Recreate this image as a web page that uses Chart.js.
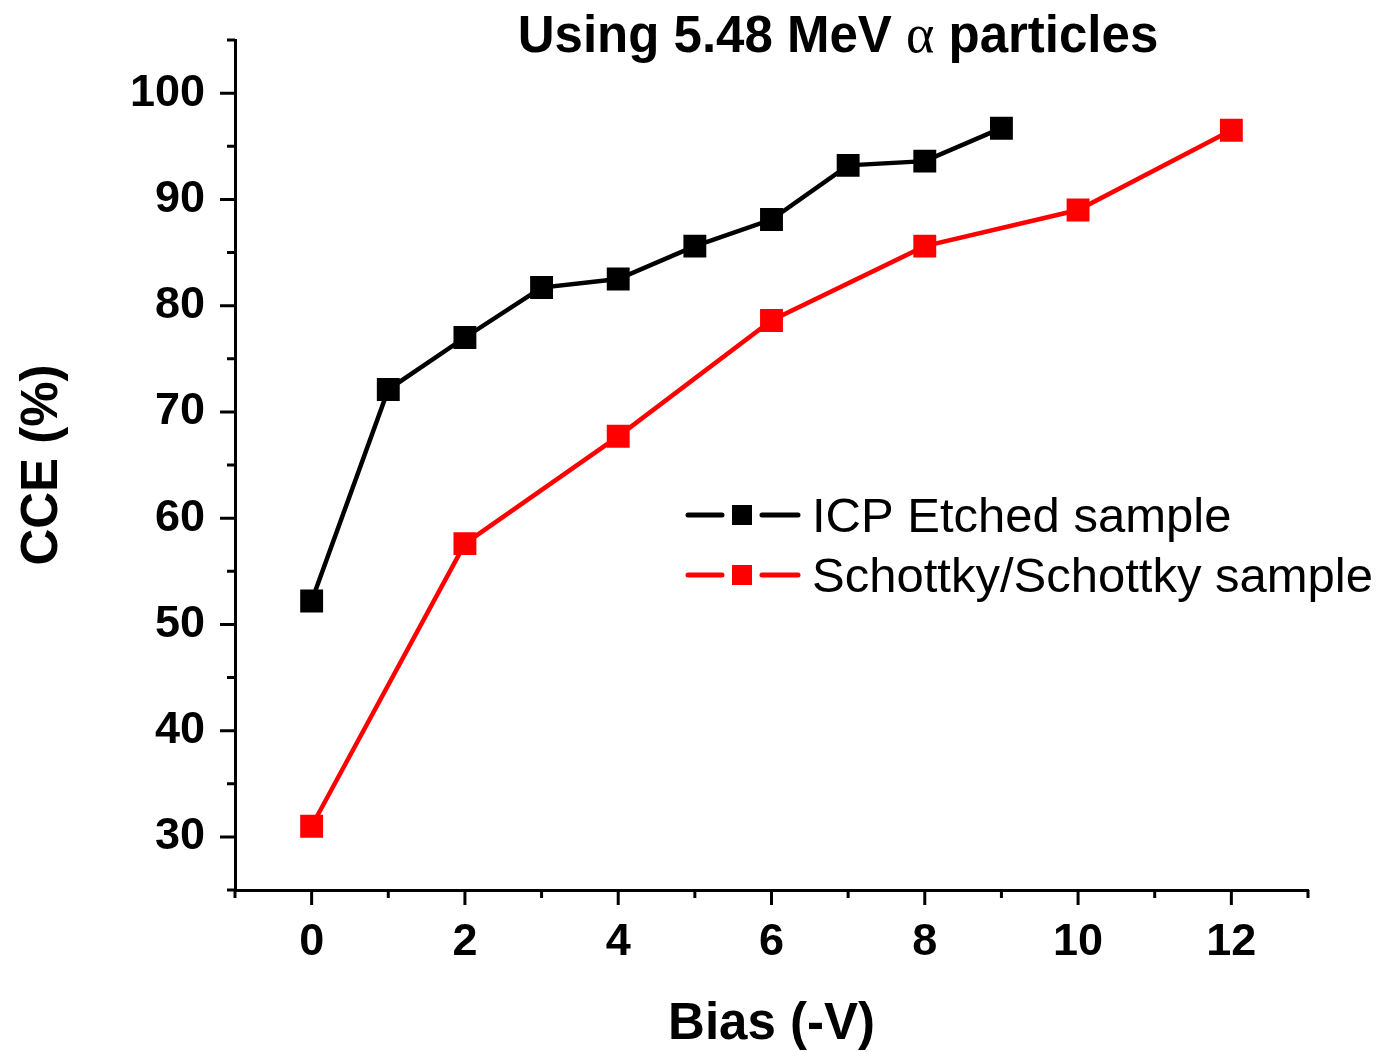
<!DOCTYPE html>
<html>
<head>
<meta charset="utf-8">
<script src="https://cdn.jsdelivr.net/npm/chart.js@4.4.1/dist/chart.umd.min.js"></script>
<style>
  body { margin: 0; background: #fff; }
  #wrap { width: 1381px; height: 1052px; }
</style>
</head>
<body>
<div id="wrap"><canvas id="cceChart" width="1381" height="1052"></canvas></div>
<script>
// data
const biasIcp = [0, 1, 2, 3, 4, 5, 6, 7, 8, 9];
const cceIcp = [52.2, 72.1, 77.0, 81.7, 82.5, 85.6, 88.1, 93.2, 93.6, 96.7];
const biasSchottky = [0, 2, 4, 6, 8, 10, 12];
const cceSchottky = [31.0, 57.6, 67.7, 78.6, 85.6, 89.0, 96.5];
const seriesNames = ["ICP Etched sample", "Schottky/Schottky sample"];
const seriesColors = ["#000000", "#ff0000"];
const chartTitle = ["Using 5.48 MeV ", "\u03b1", " particles"];

const toPoints = (xs, ys) => xs.map((x, i) => ({ x: x, y: ys[i] }));

// tick marks drawn outward, long ones for labelled values
const tickMarks = {
  id: "tickMarks",
  afterDraw(chart) {
    const ctx = chart.ctx;
    const xs = chart.scales.x, ys = chart.scales.y;
    ctx.save();
    ctx.strokeStyle = "#000";
    ctx.lineWidth = 3;
    ctx.beginPath();
    xs.ticks.forEach(t => {
      const px = xs.getPixelForValue(t.value);
      const len = (t.value % 2 === 0) ? 15 : 8;
      ctx.moveTo(px, xs.top);
      ctx.lineTo(px, xs.top + len);
    });
    ys.ticks.forEach(t => {
      const py = ys.getPixelForValue(t.value);
      const len = (t.value % 10 === 0) ? 15 : 8;
      ctx.moveTo(ys.right, py);
      ctx.lineTo(ys.right - len, py);
    });
    ctx.stroke();
    ctx.restore();
  }
};

// title and legend placed like the original figure
const titleAndLegend = {
  id: "titleAndLegend",
  afterDraw(chart) {
    const ctx = chart.ctx;
    ctx.save();
    ctx.fillStyle = "#000";
    ctx.textBaseline = "alphabetic";
    // title, alpha in serif
    const fonts = ["bold 51px 'Liberation Sans'", "54px 'Liberation Serif'", "bold 51px 'Liberation Sans'"];
    let w = 0;
    chartTitle.forEach((p, i) => { ctx.font = fonts[i]; w += ctx.measureText(p).width; });
    let x = 838 - w / 2;
    chartTitle.forEach((p, i) => {
      ctx.font = fonts[i];
      ctx.fillText(p, x, 52);
      x += ctx.measureText(p).width;
    });

    // legend
    const rows = [515, 575];
    rows.forEach((y, i) => {
      ctx.strokeStyle = seriesColors[i];
      ctx.fillStyle = seriesColors[i];
      ctx.lineWidth = 5;
      ctx.lineCap = "round";
      ctx.beginPath();
      ctx.moveTo(688, y); ctx.lineTo(722, y);
      ctx.moveTo(762, y); ctx.lineTo(798, y);
      ctx.stroke();
      ctx.fillRect(732, y - 10, 20, 20);
      ctx.fillStyle = "#000";
      ctx.font = "49px 'Liberation Sans'";
      ctx.fillText(seriesNames[i], 812, y + 17);
    });
    ctx.restore();
  }
};

const ctx = document.getElementById("cceChart").getContext("2d");
new Chart(ctx, {
  type: "scatter",
  data: {
    datasets: [
      {
        label: seriesNames[0],
        data: toPoints(biasIcp, cceIcp),
        showLine: true,
        borderColor: seriesColors[0],
        backgroundColor: seriesColors[0],
        borderWidth: 4.5,
        pointStyle: "rect",
        pointRadius: 13,
        pointHoverRadius: 13,
      },
      {
        label: seriesNames[1],
        data: toPoints(biasSchottky, cceSchottky),
        showLine: true,
        borderColor: seriesColors[1],
        backgroundColor: seriesColors[1],
        borderWidth: 4.5,
        pointStyle: "rect",
        pointRadius: 13,
        pointHoverRadius: 13,
      },
    ],
  },
  options: {
    responsive: false,
    animation: false,
    layout: { padding: { top: 40, right: 73, left: 0, bottom: 0 } },
    plugins: {
      legend: { display: false },
      tooltip: { enabled: false },
      title: { display: false },
    },
    scales: {
      x: {
        type: "linear",
        min: -1,
        max: 13,
        grid: { display: false },
        border: { display: true, color: "#000", width: 3 },
        ticks: {
          stepSize: 1,
          autoSkip: false,
          maxRotation: 0,
          padding: 18,
          color: "#000",
          font: { family: "Liberation Sans", size: 45, weight: "bold" },
          callback: v => (v >= 0 && v % 2 === 0) ? v : "",
        },
        title: {
          display: true,
          text: "Bias (-V)",
          color: "#000",
          font: { family: "Liberation Sans", size: 51, weight: "bold" },
          padding: { top: 20, bottom: -4 },
        },
        afterFit: s => {
          s.height = 162;
          s.paddingLeft = 0;
          s.paddingRight = 0;
        },
      },
      y: {
        min: 25,
        max: 105,
        grid: { display: false },
        border: { display: true, color: "#000", width: 3 },
        ticks: {
          stepSize: 5,
          autoSkip: false,
          padding: 22,
          color: "#000",
          font: { family: "Liberation Sans", size: 45, weight: "bold" },
          callback: v => (v % 10 === 0) ? v : "",
        },
        title: {
          display: true,
          text: "CCE (%)",
          color: "#000",
          font: { family: "Liberation Sans", size: 51, weight: "bold" },
          padding: 12,
        },
        afterFit: s => {
          s.width = 235;
          s.paddingTop = 0;
          s.paddingBottom = 0;
        },
      },
    },
  },
  plugins: [tickMarks, titleAndLegend],
});
</script>
</body>
</html>
